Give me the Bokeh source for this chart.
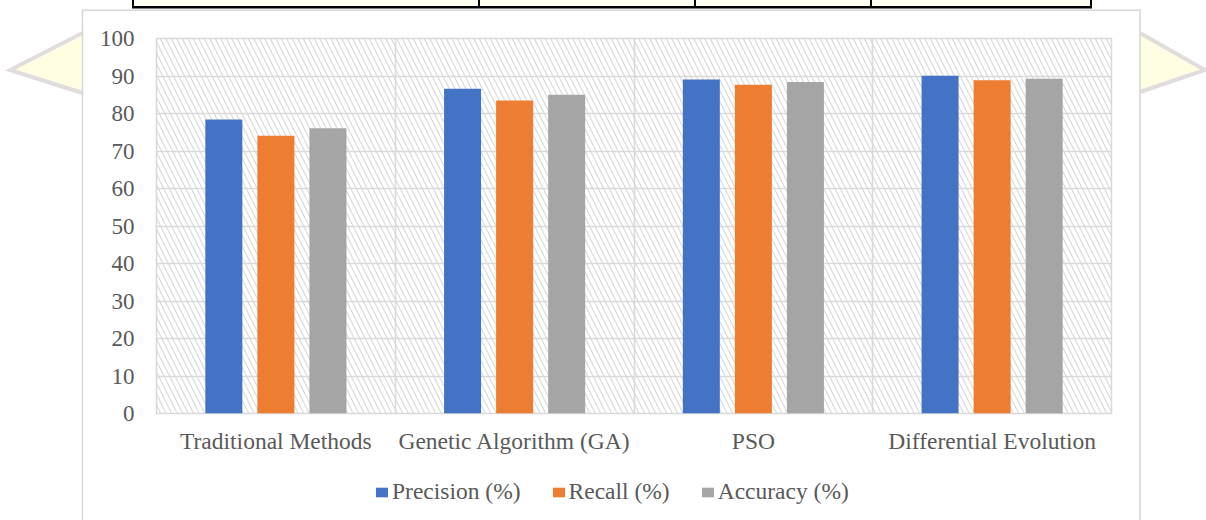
import urllib.parse
from bokeh.plotting import figure
from bokeh.models import (ColumnDataSource, Range1d, FixedTicker, Legend, LegendItem,
                          BoxAnnotation)
from bokeh.layouts import column
from bokeh.embed import file_html
from bokeh.resources import INLINE

# ---- data ----
methods = ["Traditional Methods", "Genetic Algorithm (GA)", "PSO", "Differential Evolution"]
precision = [78.4, 86.6, 89.1, 90.1]
recall = [74.1, 83.5, 87.7, 88.9]
accuracy = [76.1, 85.0, 88.4, 89.3]
series_names = ["Precision (%)", "Recall (%)", "Accuracy (%)"]
y_ticks = [0, 10, 20, 30, 40, 50, 60, 70, 80, 90, 100]

# ---- styles ----
colors = ["#4472C4", "#ED7D31", "#A5A5A5"]
FONT = "Liberation Serif"
TXT = "#595959"
GRID = "#d9d9d9"
offset = 0.218
bar_w = 0.155
W, H = 1206, 520
MAIN_H = 470
LEG_H = H - MAIN_H

# ---- page decoration behind the chart (table edge, chart box, yellow arrows) ----
deco = (
    f'<svg xmlns="http://www.w3.org/2000/svg" width="{W}" height="{H}" viewBox="0 0 {W} {H}">'
    '<rect x="133" y="0" width="958" height="7" fill="#fffff2"/>'
    '<path d="M133 0V8M479 0V8M695 0V8M871 0V8M1091 0V8" stroke="black" stroke-width="2"/>'
    '<path d="M132 7.2H1092" stroke="black" stroke-width="2.5"/>'
    '<polygon points="82.5,33 10,70 82.5,93" fill="#fffde2"/>'
    '<polyline points="82.5,33 10,70 82.5,93" fill="none" stroke="#e2dddd" stroke-width="4"/>'
    '<polygon points="1140,33 1205,70 1140,92" fill="#fffde2"/>'
    '<polyline points="1140,33 1205,70 1140,92" fill="none" stroke="#e2dddd" stroke-width="4"/>'
    '<rect x="82.5" y="10.2" width="1057.5" height="530" fill="none" stroke="#d9d9d9" stroke-width="1.6"/>'
    '</svg>'
)
deco_url = "data:image/svg+xml;charset=utf-8," + urllib.parse.quote(deco)


def deco_styles(dy):
    return {
        "background-color": "white",
        "background-image": f'url("{deco_url}")',
        "background-repeat": "no-repeat",
        "background-size": f"{W}px {H}px",
        "background-position": f"0px {-dy}px",
    }


centers = [i + 0.5 for i in range(len(methods))]
src = ColumnDataSource(dict(
    xp=[c - offset for c in centers], xr=centers, xa=[c + offset for c in centers],
    precision=precision, recall=recall, accuracy=accuracy))
cols = ["precision", "recall", "accuracy"]
xs = ["xp", "xr", "xa"]

# ---- main chart ----
p = figure(width=W, height=MAIN_H, output_backend="svg", toolbar_location=None,
           x_range=Range1d(0, len(methods)), y_range=Range1d(0, 100),
           min_border_left=156, min_border_right=95, min_border_top=38,
           min_border_bottom=MAIN_H - 413)
p.background_fill_color = "white"
p.border_fill_alpha = 0
p.outline_line_color = GRID
p.outline_line_width = 1.6
p.styles = deco_styles(0)

p.add_layout(BoxAnnotation(fill_color=None, line_color=None, hatch_pattern="\\",
                           hatch_color="#dadada", hatch_scale=11, hatch_weight=1.2,
                           level="underlay"))

p.yaxis.ticker = FixedTicker(ticks=y_ticks)
p.xaxis.ticker = FixedTicker(ticks=centers)
p.xaxis.major_label_overrides = {c: m for c, m in zip(centers, methods)}
for ax in (p.xaxis[0], p.yaxis[0]):
    ax.axis_line_color = None
    ax.major_tick_line_color = None
    ax.minor_tick_line_color = None
    ax.major_tick_out = 0
    ax.major_tick_in = 0
    ax.major_label_text_font = FONT
    ax.major_label_text_color = TXT
p.yaxis.major_label_text_font_size = "23px"
p.xaxis.major_label_text_font_size = "23.5px"
p.yaxis.major_label_standoff = 22
p.xaxis.major_label_standoff = 14

p.ygrid.ticker = FixedTicker(ticks=y_ticks[1:-1])
p.ygrid.grid_line_color = GRID
p.ygrid.grid_line_width = 1.6
p.xgrid.ticker = FixedTicker(ticks=list(range(1, len(methods))))
p.xgrid.grid_line_color = GRID
p.xgrid.grid_line_width = 1.6

for col, xcol, c in zip(cols, xs, colors):
    p.vbar(x=xcol, top=col, width=bar_w, bottom=0, source=src, fill_color=c, line_color=None)

# ---- legend strip (own figure, so the legend is not clipped by the main frame) ----
lf = figure(width=W, height=LEG_H, output_backend="svg", toolbar_location=None, title=None,
            x_axis_type=None, y_axis_type=None,
            x_range=Range1d(100, 101), y_range=Range1d(1000, 1001),
            min_border=0, min_border_left=0, min_border_right=0,
            min_border_top=0, min_border_bottom=0)
lf.outline_line_color = None
lf.background_fill_alpha = 0
lf.border_fill_alpha = 0
lf.grid.visible = False
lf.styles = deco_styles(MAIN_H)

lrs = []
for col, xcol, c in zip(cols, xs, colors):
    lrs.append(lf.vbar(x=xcol, top=col, width=bar_w, bottom=0, source=src,
                       fill_color=c, line_color=None))

legend = Legend(items=[LegendItem(label=n, renderers=[r]) for n, r in zip(series_names, lrs)],
                orientation="horizontal", location=(218, 15), padding=0, margin=0,
                spacing=30, glyph_width=15, glyph_height=12, label_standoff=3,
                label_text_font=FONT, label_text_font_size="23.5px", label_text_color=TXT,
                border_line_color=None, background_fill_alpha=0)
lf.add_layout(legend, "center")

layout = column(p, lf, spacing=0)
open("out.html", "w").write(file_html(layout, INLINE))
